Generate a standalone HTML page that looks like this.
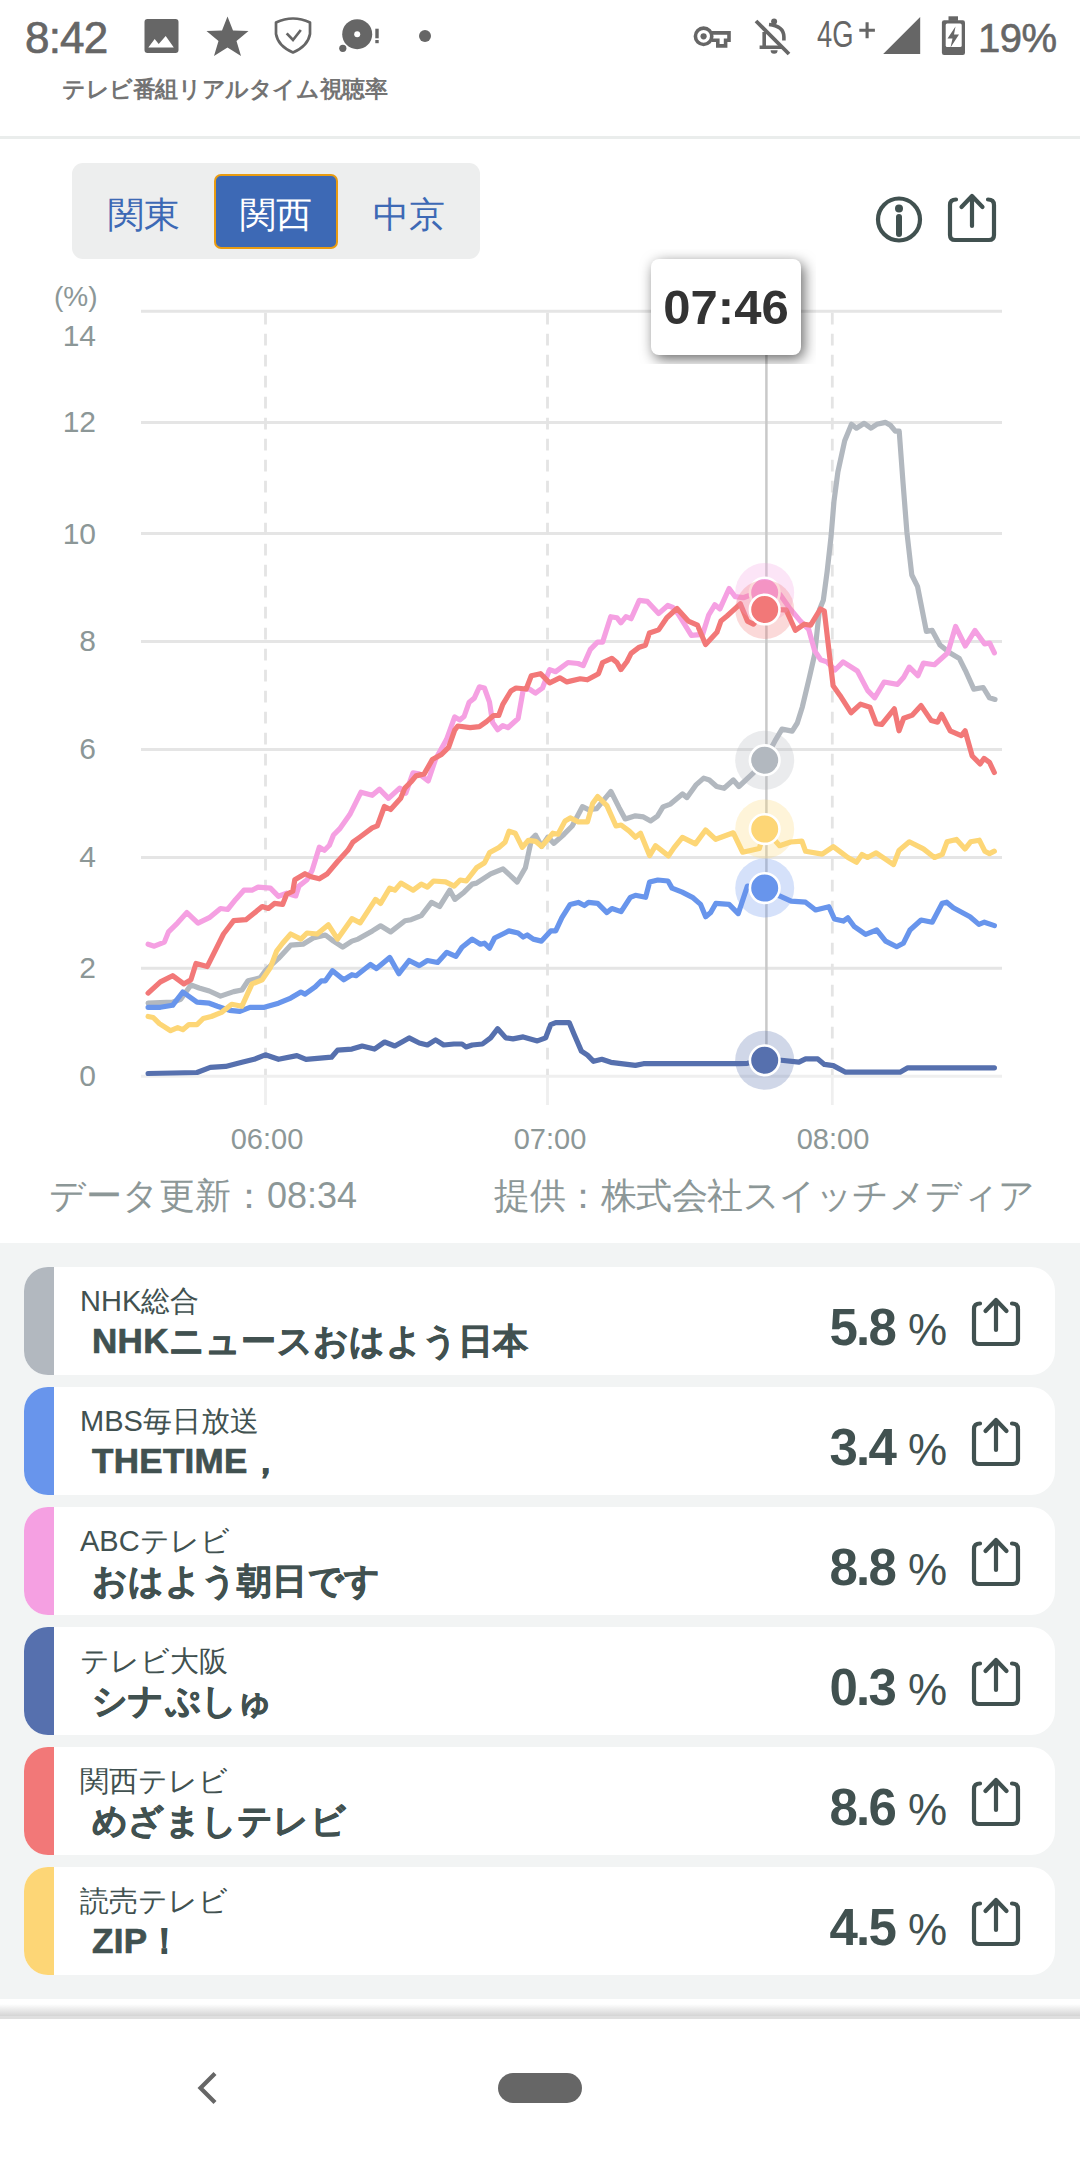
<!DOCTYPE html>
<html><head><meta charset="utf-8">
<style>
*{margin:0;padding:0;box-sizing:border-box}
html,body{width:1080px;height:2160px;overflow:hidden;background:#fff;font-family:"Liberation Sans",sans-serif}
.abs{position:absolute}
.yl{position:absolute;left:40px;width:56px;text-align:right;font-size:30px;line-height:40px;color:#8c9797}
.xl{position:absolute;top:1121px;width:120px;text-align:center;font-size:29px;line-height:36px;color:#8c9797}
.card{position:absolute;left:24px;width:1031px;height:108px;background:#fff;border-radius:24px;overflow:hidden}
.strip{position:absolute;left:0;top:0;width:30px;height:108px}
.ch{position:absolute;left:56px;top:16px;font-size:29px;line-height:36px;color:#415150;white-space:nowrap}
.prog{position:absolute;left:68px;top:53px;font-size:35px;line-height:42px;font-weight:bold;color:#415150;white-space:nowrap;letter-spacing:0.3px;-webkit-text-stroke:0.7px #415150}
.val{position:absolute;right:160px;top:32px;font-size:51px;line-height:58px;font-weight:bold;letter-spacing:-1.8px;color:#415150}
.pct{position:absolute;left:884px;top:38px;font-size:44px;line-height:50px;color:#415150}
</style></head><body>
<!-- status bar -->
<div class="abs" style="left:25px;top:13px;font-size:44px;line-height:50px;color:#666;letter-spacing:-0.8px;-webkit-text-stroke:0.7px #666">8:42</div>
<svg class="abs" style="left:0;top:0" width="1080" height="70" viewBox="0 0 1080 70">
<rect x="144.5" y="19" width="34" height="34" rx="3" fill="#666"/><path d="M148.3 47.6 L154.7 38.9 L158.7 44.1 L165.7 36 L173.8 47.6 Z" fill="#fff"/>
<path d="M227.5 16.5 L233 30.5 L248.5 31 L236.5 41 L241 56 L227.5 47.5 L214 56 L218.5 41 L206.5 31 L222 30.5 Z" fill="#666"/>
<path d="M276 22.5 Q293 14.5 310 22.5 V34 Q308 46 293 52.5 Q278 46 276 34 Z" fill="none" stroke="#666" stroke-width="2.7" stroke-linejoin="round"/><path d="M286.7 33.3 L293 40 L300.8 30" fill="none" stroke="#666" stroke-width="2.7"/>
<circle cx="357.2" cy="34.2" r="15" fill="#666"/><circle cx="357.2" cy="34.2" r="3" fill="#fff"/><circle cx="342.8" cy="48.3" r="3.6" fill="#666"/><rect x="375.3" y="28.7" width="3.4" height="9.6" fill="#666"/><rect x="375.3" y="40" width="3.4" height="3.2" fill="#666"/>
<circle cx="425" cy="36" r="6" fill="#666"/>
<circle cx="703.6" cy="36.3" r="8.2" fill="none" stroke="#666" stroke-width="3.6"/><circle cx="703.6" cy="36.3" r="3.1" fill="#666"/>
<path d="M711.5 32.9 H729 V40.2 H725.6 V45.9 H717.8 V40.2 H711.5" fill="none" stroke="#666" stroke-width="3.6"/>
<circle cx="774.1" cy="21.5" r="3" fill="#666"/>
<path d="M769 24.5 Q783.9 26 783.9 37 V40.5 M764.2 32 V47.2 M759.6 47.2 H782" fill="none" stroke="#666" stroke-width="3.6"/>
<path d="M770.6 50.3 A3.5 3.5 0 0 0 777.6 50.3 Z" fill="#666"/>
<path d="M756 21 L789 54" stroke="#666" stroke-width="3.8"/>
<path d="M859.3 30.3 H874.9 M867.1 22.3 V38.3" stroke="#666" stroke-width="3.1"/>
<path d="M920.2 17.1 V54.1 H883.2 Z" fill="#666"/>
<rect x="948.5" y="16.3" width="9.5" height="4.5" fill="#666"/>
<rect x="941.9" y="20.2" width="23.1" height="34.7" rx="2.2" fill="#666"/>
<rect x="945.7" y="23.4" width="16" height="23.5" rx="1.5" fill="#fff"/>
<path d="M955.5 26.5 L947.5 38.5 H952.5 L950.5 47.5 L959 34.5 H954 Z" fill="#666"/>
</svg>
<div class="abs" style="left:817px;top:15px;font-size:36px;line-height:40px;color:#666;transform:scaleX(0.76);transform-origin:0 0">4G</div>
<div class="abs" style="left:978px;top:16px;font-size:40px;line-height:44px;color:#666;letter-spacing:-0.5px;-webkit-text-stroke:0.6px #666">19%</div>
<div class="abs" style="left:62px;top:74px;font-size:23px;line-height:30px;color:#737373;font-weight:bold;letter-spacing:-0.4px">テレビ番組リアルタイム視聴率</div>
<div class="abs" style="left:0;top:136px;width:1080px;height:3px;background:#eaedec"></div>

<!-- segment control -->
<div class="abs" style="left:72px;top:163px;width:408px;height:96px;background:#edeeee;border-radius:11px"></div>
<div class="abs" style="left:214px;top:174px;width:124px;height:75px;background:#3d69b5;border:2.6px solid #e99c12;border-radius:7px"></div>
<div class="abs" style="left:72px;top:193px;width:143px;text-align:center;font-size:36px;line-height:44px;color:#3d69b5">関東</div>
<div class="abs" style="left:214px;top:193px;width:124px;text-align:center;font-size:36px;line-height:44px;color:#fff">関西</div>
<div class="abs" style="left:338px;top:193px;width:142px;text-align:center;font-size:36px;line-height:44px;color:#3d69b5">中京</div>

<svg class="abs" style="left:872px;top:192px" width="54" height="54" viewBox="0 0 54 54"><circle cx="27" cy="27.5" r="21" fill="none" stroke="#415150" stroke-width="4.2"/><circle cx="27" cy="16.5" r="4" fill="#415150"/><path d="M27 25 V42" stroke="#415150" stroke-width="6" stroke-linecap="round"/></svg>
<svg style="position:absolute;left:946px;top:193px" width="52" height="52" viewBox="0 0 52 52"><path d="M10 6.5 Q4 6.5 4 12 V42 Q4 47 9 47 H43 Q48 47 48 42 V12 Q48 6.5 42 6.5" fill="none" stroke="#415150" stroke-width="4.2" stroke-linecap="round"/><path d="M26 33 V4 M15.5 14 L26 3 L36.5 14" fill="none" stroke="#415150" stroke-width="4.2" stroke-linecap="round" stroke-linejoin="round"/></svg>

<svg width="1080" height="1240" style="position:absolute;left:0;top:0">
<line x1="141" y1="311.3" x2="1002" y2="311.3" stroke="#e5e5e5" stroke-width="3"/>
<line x1="141" y1="422.4" x2="1002" y2="422.4" stroke="#e5e5e5" stroke-width="3"/>
<line x1="141" y1="533.5" x2="1002" y2="533.5" stroke="#e5e5e5" stroke-width="3"/>
<line x1="141" y1="641.4" x2="1002" y2="641.4" stroke="#e5e5e5" stroke-width="3"/>
<line x1="141" y1="749.4" x2="1002" y2="749.4" stroke="#e5e5e5" stroke-width="3"/>
<line x1="141" y1="857.4" x2="1002" y2="857.4" stroke="#e5e5e5" stroke-width="3"/>
<line x1="141" y1="968.2" x2="1002" y2="968.2" stroke="#e5e5e5" stroke-width="3"/>
<line x1="141" y1="1076.3" x2="1002" y2="1076.3" stroke="#efefef" stroke-width="3"/>
<line x1="265.5" y1="312.8" x2="265.5" y2="1075" stroke="#e4e4e4" stroke-width="2.8" stroke-dasharray="11.8 9.2"/>
<line x1="265.5" y1="1076" x2="265.5" y2="1105" stroke="#efefef" stroke-width="2.8"/>
<line x1="547.5" y1="312.8" x2="547.5" y2="1075" stroke="#e4e4e4" stroke-width="2.8" stroke-dasharray="11.8 9.2"/>
<line x1="547.5" y1="1076" x2="547.5" y2="1105" stroke="#efefef" stroke-width="2.8"/>
<line x1="832.3" y1="312.8" x2="832.3" y2="1075" stroke="#e4e4e4" stroke-width="2.8" stroke-dasharray="11.8 9.2"/>
<line x1="832.3" y1="1076" x2="832.3" y2="1105" stroke="#efefef" stroke-width="2.8"/>
<line x1="766.4" y1="354" x2="766.4" y2="1076" stroke="#c9c9c9" stroke-width="2.5"/>
<polyline points="148.1,1003.2 172.6,1002.2 180.7,999.2 190.9,984.9 199.1,988.0 209.3,991.0 220.5,996.1 233.7,991.6 241.9,990.0 248.0,980.8 260.2,977.8 266.3,969.6 278.5,958.4 290.7,945.2 303.0,944.2 313.2,938.0 325.4,935.0 333.5,941.1 342.7,947.2 351.9,941.1 358.1,939.1 372.4,930.9 380.6,925.8 390.7,931.9 405.0,920.7 411.1,919.7 421.3,915.6 431.5,902.4 439.6,906.5 449.8,890.2 454.9,899.4 464.1,892.2 472.2,884.1 476.5,883.1 490.7,873.9 503.0,868.8 517.2,882.0 525.4,867.8 531.5,839.3 535.6,835.2 541.7,846.4 547.8,837.2 553.9,843.3 564.1,834.2 572.2,826.0 582.4,806.7 588.5,809.7 596.7,808.7 610.9,791.4 619.1,807.7 625.2,818.9 635.4,815.8 643.5,816.9 650.7,820.9 657.4,816.1 663.0,806.9 670.4,804.1 682.4,793.9 687.0,797.6 696.3,784.6 703.7,778.1 709.3,780.0 716.7,786.5 724.1,788.3 733.3,780.0 738.9,786.5 753.7,772.6 764.7,760.2 775.9,739.3 782.0,729.1 792.2,731.1 797.3,723.0 802.4,706.7 809.7,676.1 814.6,654.7 819.4,610.0 823.3,600.3 827.2,571.1 831.1,536.1 834.0,501.1 837.9,471.9 844.7,440.8 851.5,424.3 856.4,428.2 864.2,423.3 871.0,428.2 876.8,424.3 885.6,422.4 890.4,425.3 895.3,431.1 899.2,431.1 903.1,483.6 906.9,532.2 911.8,575.0 917.6,586.7 926.4,631.4 932.2,630.4 940.0,645.0 949.7,652.8 959.4,658.6 965.3,670.3 973.8,689.1 983.2,687.5 989.5,697.8 995.0,699.4" fill="none" stroke="#b2b8bf" stroke-width="5.2" stroke-linejoin="round" stroke-linecap="round"/>
<polyline points="148.1,1007.3 160.4,1007.3 172.6,1005.3 182.8,992.0 197.0,1002.2 209.3,1003.2 217.4,1006.3 229.6,1010.4 239.8,1011.4 250.0,1007.3 264.3,1007.3 278.5,1003.2 290.7,998.1 300.9,992.0 305.0,994.1 315.2,986.9 321.3,980.8 325.4,980.8 332.5,970.7 343.7,979.8 351.9,974.7 356.1,975.7 370.4,964.5 376.5,968.6 389.7,957.4 398.9,973.7 409.1,960.5 419.3,965.6 427.4,960.5 437.6,962.5 446.8,952.3 455.9,956.4 462.0,947.2 472.2,939.1 480.4,944.2 484.4,943.2 489.5,948.2 494.6,938.0 504.8,933.0 508.9,930.9 518.1,933.0 523.2,937.0 527.2,935.0 533.3,939.1 541.5,941.1 550.7,930.9 555.7,930.9 561.9,917.7 570.2,904.4 578.3,902.4 584.4,905.5 588.5,902.4 597.7,903.4 606.9,912.6 611.9,908.5 621.1,911.6 630.3,897.3 635.4,895.3 645.6,897.3 649.6,882.0 657.8,880.0 668.0,881.0 672.0,888.1 682.2,892.2 692.4,897.3 700.6,904.4 705.7,916.7 710.7,912.6 715.8,903.4 729.1,904.4 738.2,913.6 747.4,886.1 764.7,888.1 778.9,895.6 791.1,901.1 805.6,902.2 815.6,910.0 828.9,906.7 834.4,918.9 843.3,921.1 847.8,917.8 854.4,926.7 865.6,934.4 876.7,930.0 885.6,941.1 896.7,946.7 903.3,943.3 910.0,930.0 921.1,920.0 932.2,922.2 942.2,903.3 946.7,902.2 953.3,907.8 970.0,916.7 978.9,924.4 984.4,922.2 994.4,925.6" fill="none" stroke="#6895ec" stroke-width="5.2" stroke-linejoin="round" stroke-linecap="round"/>
<polyline points="148.1,944.2 154.3,946.2 164.4,942.1 168.5,931.9 177.7,922.8 186.9,912.6 198.0,923.2 209.3,917.7 220.5,908.5 227.6,909.5 235.7,899.4 243.9,890.2 252.0,890.2 258.1,887.1 270.4,888.1 278.5,896.3 286.7,893.2 295.8,895.9 298.9,886.1 307.0,879.8 312.1,870.6 319.3,847.2 324.4,850.3 329.4,845.2 333.5,835.0 339.6,828.9 349.8,814.6 361.0,792.2 372.2,795.3 379.4,789.2 388.5,798.3 399.7,788.1 405.8,793.2 413.0,772.9 419.1,773.9 428.2,781.0 435.4,759.6 446.6,739.3 454.7,716.9 459.8,719.9 464.1,716.5 469.2,702.2 474.3,698.1 479.4,686.9 484.4,688.0 489.5,702.2 492.6,722.6 497.7,729.7 502.8,725.6 507.9,727.7 518.1,718.5 523.2,690.0 529.3,689.0 535.4,693.1 542.5,688.0 549.6,669.6 555.7,671.7 568.0,662.5 578.1,663.5 583.2,665.6 590.4,649.3 597.5,642.1 602.6,642.1 610.7,616.7 616.9,617.7 620.9,622.8 626.0,616.7 631.1,618.7 639.3,600.4 647.4,601.4 658.6,613.6 667.8,605.5 672.9,607.5 678.1,614.0 686.3,627.2 691.4,635.4 702.6,634.4 708.7,615.0 714.8,604.8 719.9,608.9 729.1,588.5 735.2,596.7 743.3,597.7 751.5,594.6 764.7,592.6 780.0,594.6 790.2,608.9 800.4,621.1 808.7,629.4 814.6,650.6 820.7,659.8 826.9,661.9 835.0,670.0 843.1,661.9 857.4,671.0 867.6,690.4 874.6,697.8 884.1,682.0 897.5,684.4 903.7,677.3 909.3,667.1 917.9,675.7 923.4,663.1 934.4,664.7 947.8,652.8 955.6,626.5 965.3,646.0 975.0,630.4 984.7,644.0 989.6,643.0 994.4,652.8" fill="none" stroke="#f5a0e2" stroke-width="5.2" stroke-linejoin="round" stroke-linecap="round"/>
<polyline points="148.1,1073.5 197.0,1072.5 210.3,1067.4 225.6,1066.4 241.9,1062.3 254.1,1059.3 265.3,1054.8 278.5,1059.3 296.9,1055.6 306.0,1059.3 331.5,1057.2 337.6,1050.1 351.9,1049.1 362.2,1046.0 374.4,1049.1 384.6,1042.0 394.8,1046.0 409.1,1037.9 419.3,1043.0 427.4,1045.0 435.6,1039.9 443.7,1045.0 453.9,1044.0 462.0,1044.0 466.1,1047.0 472.2,1045.0 482.4,1044.0 490.6,1037.9 497.7,1028.7 505.8,1037.9 513.0,1038.9 523.2,1036.9 537.4,1040.9 545.6,1037.9 550.7,1024.6 555.7,1022.6 569.2,1022.6 574.3,1034.8 581.4,1051.1 587.5,1055.2 593.6,1061.3 601.8,1059.3 610.9,1062.3 635.4,1065.4 643.5,1063.7 739.3,1063.7 747.4,1063.3 764.7,1060.3 778.9,1060.0 798.9,1062.2 805.6,1058.9 817.8,1058.9 824.4,1064.4 833.3,1065.6 845.6,1072.2 900.0,1072.2 907.8,1067.8 994.4,1067.8" fill="none" stroke="#5670ae" stroke-width="5.2" stroke-linejoin="round" stroke-linecap="round"/>
<polyline points="148.1,993.1 160.4,981.9 172.6,975.7 183.8,983.9 190.9,979.8 196.0,963.5 207.2,966.6 223.5,934.0 233.7,920.7 245.9,919.7 256.1,911.6 262.2,906.5 268.3,908.5 274.4,903.4 282.6,904.4 286.7,894.3 292.8,891.2 294.8,879.8 305.0,873.7 311.1,876.8 319.3,878.8 327.4,873.7 337.6,861.5 347.8,850.3 352.9,842.1 360.0,837.0 372.2,827.9 377.3,825.8 384.4,806.5 390.6,809.5 400.7,798.3 404.8,788.1 410.9,782.0 416.0,775.9 424.2,773.9 432.3,759.6 441.5,754.5 448.6,747.4 454.7,730.1 457.8,726.0 470.2,727.7 479.4,726.7 486.5,721.6 493.6,715.5 498.7,715.5 502.8,704.3 510.9,691.0 516.0,688.0 526.2,689.0 531.3,675.7 540.5,673.7 549.6,682.9 559.8,677.8 566.9,681.9 580.2,678.8 587.3,679.8 598.5,673.7 602.6,662.5 611.8,658.4 616.9,662.5 620.9,669.6 627.0,661.5 631.1,653.3 639.3,647.2 645.4,645.2 649.4,633.0 658.6,629.9 666.8,617.7 677.0,608.5 688.3,621.1 697.5,625.2 705.6,644.5 716.9,632.3 720.9,621.1 727.0,616.0 740.3,603.8 747.4,621.1 753.5,624.2 764.7,609.5 786.1,609.9 795.3,630.3 804.4,624.2 810.6,625.2 820.4,609.0 824.3,611.0 833.1,685.8 840.0,695.4 851.0,712.7 860.5,704.1 869.9,707.2 876.2,723.7 881.7,724.5 894.3,708.8 899.0,730.8 903.7,718.2 912.4,715.1 921.1,705.6 931.3,720.6 937.6,722.2 941.5,714.3 950.2,730.8 961.2,735.6 965.1,730.8 972.2,756.0 980.1,763.9 984.0,758.4 989.5,762.3 994.3,772.5" fill="none" stroke="#f27878" stroke-width="5.2" stroke-linejoin="round" stroke-linecap="round"/>
<polyline points="148.1,1016.5 153.2,1017.5 159.4,1023.6 170.6,1030.7 177.7,1027.7 182.8,1029.7 188.9,1024.6 197.0,1024.6 203.2,1018.5 211.3,1016.5 221.5,1012.4 231.7,1004.3 241.9,1006.3 252.0,983.9 262.2,979.8 270.4,967.6 276.5,951.3 282.6,943.2 290.7,934.0 300.9,939.1 307.0,933.0 317.2,934.0 328.4,924.8 337.6,939.1 351.9,918.7 360.2,922.8 375.5,899.4 380.6,903.4 389.7,888.1 394.8,890.2 400.9,883.1 413.2,890.2 421.3,884.1 427.4,887.1 433.5,881.0 445.6,881.9 454.1,886.1 460.2,880.0 466.3,881.0 476.5,867.8 484.6,862.7 489.7,852.5 498.9,847.4 505.0,842.3 509.1,831.1 515.2,833.2 522.3,847.4 528.4,840.3 535.6,841.3 541.7,846.4 552.9,833.2 558.0,834.2 565.1,820.9 570.2,817.9 578.3,821.9 587.5,821.9 592.6,803.6 597.7,796.5 606.9,805.6 616.0,826.0 621.1,825.0 629.3,831.1 635.4,837.2 640.5,833.2 649.6,855.6 655.6,845.7 668.5,855.9 674.1,847.6 682.4,837.4 695.4,843.9 705.6,830.0 715.7,839.3 733.3,832.8 742.6,852.2 759.3,848.5 764.8,829.1 779.6,845.7 790.7,842.0 801.9,841.1 805.6,851.3 822.2,854.1 833.3,846.7 840.7,852.2 847.9,857.5 856.5,862.3 862.0,854.4 867.5,857.5 876.2,852.8 893.5,864.6 899.0,850.5 909.3,841.8 923.4,848.9 934.4,857.5 942.3,854.4 947.0,841.8 956.5,839.4 965.1,848.9 970.6,841.8 979.3,840.2 984.8,851.2 989.5,853.6 994.3,851.2" fill="none" stroke="#fdd676" stroke-width="5.2" stroke-linejoin="round" stroke-linecap="round"/>
<circle cx="764.7" cy="760.2" r="29.5" fill="#b2b8bf" fill-opacity="0.28"/>
<circle cx="764.7" cy="760.2" r="14.8" fill="#b2b8bf" stroke="#fff" stroke-width="2.6"/>
<circle cx="764.7" cy="829.1" r="29.5" fill="#fdd676" fill-opacity="0.28"/>
<circle cx="764.7" cy="829.1" r="14.8" fill="#fdd676" stroke="#fff" stroke-width="2.6"/>
<circle cx="764.7" cy="888.1" r="29.5" fill="#6895ec" fill-opacity="0.28"/>
<circle cx="764.7" cy="888.1" r="14.8" fill="#6895ec" stroke="#fff" stroke-width="2.6"/>
<circle cx="764.7" cy="1060.3" r="29.5" fill="#5670ae" fill-opacity="0.28"/>
<circle cx="764.7" cy="1060.3" r="14.8" fill="#5670ae" stroke="#fff" stroke-width="2.6"/>
<circle cx="764.7" cy="592.6" r="29.5" fill="#f5a0e2" fill-opacity="0.28"/>
<circle cx="764.7" cy="592.6" r="14.8" fill="#f5a0e2" stroke="#fff" stroke-width="2.6"/>
<circle cx="764.7" cy="609.5" r="29.5" fill="#f27878" fill-opacity="0.28"/>
<circle cx="764.7" cy="609.5" r="14.8" fill="#f27878" stroke="#fff" stroke-width="2.6"/>
</svg>
<div class="abs" style="left:54px;top:280px;font-size:28px;line-height:34px;color:#8c9797">(%)</div>
<div class="yl" style="top:315.5px">14</div><div class="yl" style="top:402.4px">12</div><div class="yl" style="top:513.5px">10</div><div class="yl" style="top:621.4px">8</div><div class="yl" style="top:729.4px">6</div><div class="yl" style="top:837.4px">4</div><div class="yl" style="top:948.2px">2</div><div class="yl" style="top:1056.3px">0</div>
<div class="xl" style="left:207px">06:00</div>
<div class="xl" style="left:490px">07:00</div>
<div class="xl" style="left:773px">08:00</div>

<!-- tooltip -->
<div class="abs" style="left:636px;top:249px;width:180px;height:115px;overflow:hidden"><div class="abs" style="left:15px;top:10px;width:150px;height:96px;background:#fff;border-radius:8px;box-shadow:3px 4px 14px rgba(0,0,0,0.6)"></div></div>
<div class="abs" style="left:651px;top:278px;width:150px;text-align:center;font-size:49px;line-height:58px;font-weight:bold;color:#333">07:46</div>

<div class="abs" style="left:49px;top:1174px;font-size:36px;line-height:44px;color:#8c9797">データ更新：08:34</div>
<div class="abs" style="left:494px;top:1174px;font-size:36px;letter-spacing:-0.5px;line-height:44px;color:#8c9797">提供：株式会社スイッチメディア</div>

<!-- list -->
<div class="abs" style="left:0;top:1243px;width:1080px;height:756px;background:#f2f4f4"></div>
<div class="card" style="top:1267px"><div class="strip" style="background:#b2b8bf"></div>
<div class="ch">NHK総合</div><div class="prog">NHKニュースおはよう日本</div><div class="val">5.8</div><div class="pct">%</div><svg style="position:absolute;left:946px;top:30px" width="52" height="52" viewBox="0 0 52 52"><path d="M10 6.5 Q4 6.5 4 12 V42 Q4 47 9 47 H43 Q48 47 48 42 V12 Q48 6.5 42 6.5" fill="none" stroke="#415150" stroke-width="4.2" stroke-linecap="round"/><path d="M26 33 V4 M15.5 14 L26 3 L36.5 14" fill="none" stroke="#415150" stroke-width="4.2" stroke-linecap="round" stroke-linejoin="round"/></svg></div>
<div class="card" style="top:1387px"><div class="strip" style="background:#6895ec"></div>
<div class="ch">MBS毎日放送</div><div class="prog">THETIME，</div><div class="val">3.4</div><div class="pct">%</div><svg style="position:absolute;left:946px;top:30px" width="52" height="52" viewBox="0 0 52 52"><path d="M10 6.5 Q4 6.5 4 12 V42 Q4 47 9 47 H43 Q48 47 48 42 V12 Q48 6.5 42 6.5" fill="none" stroke="#415150" stroke-width="4.2" stroke-linecap="round"/><path d="M26 33 V4 M15.5 14 L26 3 L36.5 14" fill="none" stroke="#415150" stroke-width="4.2" stroke-linecap="round" stroke-linejoin="round"/></svg></div>
<div class="card" style="top:1507px"><div class="strip" style="background:#f5a0e2"></div>
<div class="ch">ABCテレビ</div><div class="prog">おはよう朝日です</div><div class="val">8.8</div><div class="pct">%</div><svg style="position:absolute;left:946px;top:30px" width="52" height="52" viewBox="0 0 52 52"><path d="M10 6.5 Q4 6.5 4 12 V42 Q4 47 9 47 H43 Q48 47 48 42 V12 Q48 6.5 42 6.5" fill="none" stroke="#415150" stroke-width="4.2" stroke-linecap="round"/><path d="M26 33 V4 M15.5 14 L26 3 L36.5 14" fill="none" stroke="#415150" stroke-width="4.2" stroke-linecap="round" stroke-linejoin="round"/></svg></div>
<div class="card" style="top:1627px"><div class="strip" style="background:#5670ae"></div>
<div class="ch">テレビ大阪</div><div class="prog">シナぷしゅ</div><div class="val">0.3</div><div class="pct">%</div><svg style="position:absolute;left:946px;top:30px" width="52" height="52" viewBox="0 0 52 52"><path d="M10 6.5 Q4 6.5 4 12 V42 Q4 47 9 47 H43 Q48 47 48 42 V12 Q48 6.5 42 6.5" fill="none" stroke="#415150" stroke-width="4.2" stroke-linecap="round"/><path d="M26 33 V4 M15.5 14 L26 3 L36.5 14" fill="none" stroke="#415150" stroke-width="4.2" stroke-linecap="round" stroke-linejoin="round"/></svg></div>
<div class="card" style="top:1747px"><div class="strip" style="background:#f27878"></div>
<div class="ch">関西テレビ</div><div class="prog">めざましテレビ</div><div class="val">8.6</div><div class="pct">%</div><svg style="position:absolute;left:946px;top:30px" width="52" height="52" viewBox="0 0 52 52"><path d="M10 6.5 Q4 6.5 4 12 V42 Q4 47 9 47 H43 Q48 47 48 42 V12 Q48 6.5 42 6.5" fill="none" stroke="#415150" stroke-width="4.2" stroke-linecap="round"/><path d="M26 33 V4 M15.5 14 L26 3 L36.5 14" fill="none" stroke="#415150" stroke-width="4.2" stroke-linecap="round" stroke-linejoin="round"/></svg></div>
<div class="card" style="top:1867px"><div class="strip" style="background:#fdd676"></div>
<div class="ch">読売テレビ</div><div class="prog">ZIP！</div><div class="val">4.5</div><div class="pct">%</div><svg style="position:absolute;left:946px;top:30px" width="52" height="52" viewBox="0 0 52 52"><path d="M10 6.5 Q4 6.5 4 12 V42 Q4 47 9 47 H43 Q48 47 48 42 V12 Q48 6.5 42 6.5" fill="none" stroke="#415150" stroke-width="4.2" stroke-linecap="round"/><path d="M26 33 V4 M15.5 14 L26 3 L36.5 14" fill="none" stroke="#415150" stroke-width="4.2" stroke-linecap="round" stroke-linejoin="round"/></svg></div>

<!-- nav -->
<div class="abs" style="left:0;top:2004px;width:1080px;height:12px;background:linear-gradient(#fff,#d4d4d4)"></div>
<div class="abs" style="left:0;top:2016px;width:1080px;height:3px;background:#dfdfdf"></div>
<svg class="abs" style="left:190px;top:2068px" width="36" height="40" viewBox="0 0 36 40"><path d="M25 5.5 L10.5 20 L25 34.5" fill="none" stroke="#666" stroke-width="4.2"/></svg>
<div class="abs" style="left:498px;top:2073px;width:84px;height:30px;border-radius:15px;background:#666"></div>
</body></html>
